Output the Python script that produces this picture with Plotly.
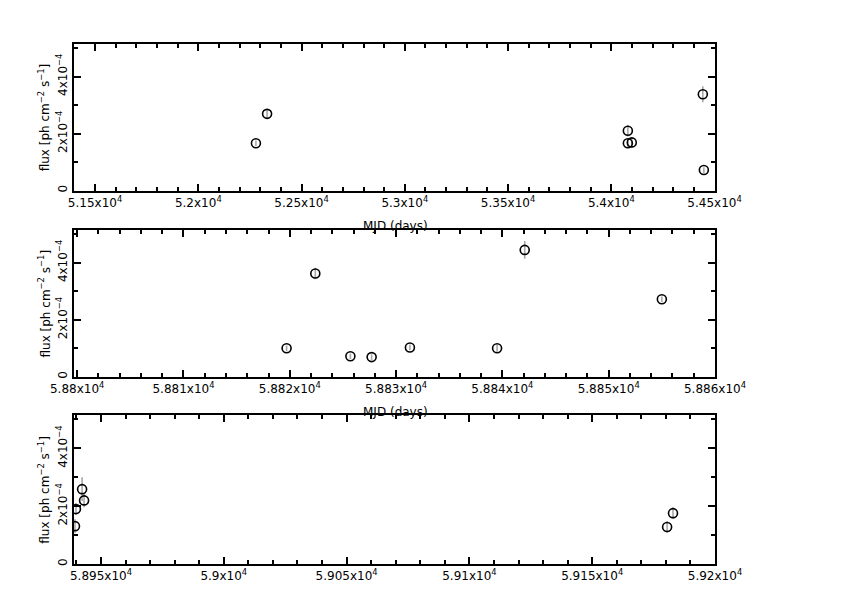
import plotly.graph_objects as go

# ---- data ----
p1_mjd = [52279, 52333, 54080, 54080, 54099, 54443, 54448]
p1_flux = [1.66e-4, 2.69e-4, 2.10e-4, 1.66e-4, 1.69e-4, 3.38e-4, 0.72e-4]
p1_err = [0.10e-4, 0.17e-4, 0.20e-4, 0.17e-4, 0.17e-4, 0.28e-4, 0.10e-4]

p2_mjd = [58819.7, 58822.4, 58825.7, 58827.7, 58831.3, 58839.5, 58842.1, 58855.0]
p2_flux = [1.00e-4, 3.62e-4, 0.72e-4, 0.69e-4, 1.03e-4, 1.00e-4, 4.45e-4, 2.72e-4]
p2_err = [0.10e-4, 0.20e-4, 0.10e-4, 0.10e-4, 0.10e-4, 0.12e-4, 0.31e-4, 0.10e-4]

p3_mjd = [58939.4, 58939.8, 58942.3, 58943.1, 59180.5, 59182.9]
p3_flux = [1.31e-4, 1.90e-4, 2.59e-4, 2.20e-4, 1.28e-4, 1.76e-4]
p3_err = [0.24e-4, 0.20e-4, 0.41e-4, 0.24e-4, 0.20e-4, 0.20e-4]

p1_xticks = [51500, 52000, 52500, 53000, 53500, 54000, 54500]
p1_xlabels = ["5.15x10<sup>4</sup>", "5.2x10<sup>4</sup>", "5.25x10<sup>4</sup>", "5.3x10<sup>4</sup>",
              "5.35x10<sup>4</sup>", "5.4x10<sup>4</sup>", "5.45x10<sup>4</sup>"]
p2_xticks = [58800, 58810, 58820, 58830, 58840, 58850, 58860]
p2_xlabels = ["5.88x10<sup>4</sup>", "5.881x10<sup>4</sup>", "5.882x10<sup>4</sup>", "5.883x10<sup>4</sup>",
              "5.884x10<sup>4</sup>", "5.885x10<sup>4</sup>", "5.886x10<sup>4</sup>"]
p3_xticks = [58950, 59000, 59050, 59100, 59150, 59200]
p3_xlabels = ["5.895x10<sup>4</sup>", "5.9x10<sup>4</sup>", "5.905x10<sup>4</sup>", "5.91x10<sup>4</sup>",
              "5.915x10<sup>4</sup>", "5.92x10<sup>4</sup>"]
yticks = [0, 2e-4, 4e-4]
ylabels = ["0", "2x10<sup>−4</sup>", "4x10<sup>−4</sup>"]

y_title = "flux [ph cm<sup>−2</sup> s<sup>−1</sup>]"
x_title = "MJD (days)"

panels = [
    (p1_mjd, p1_flux, p1_err, p1_xticks, p1_xlabels, [51398, 54502], 100),
    (p2_mjd, p2_flux, p2_err, p2_xticks, p2_xlabels, [58799.7, 58860.0], 2),
    (p3_mjd, p3_flux, p3_err, p3_xticks, p3_xlabels, [58939.0, 59200.0], 10),
]

# page body has an 8px margin; work in window pixels
OFF = 8
W, H = 842 - OFF, 595 - OFF
L, R, T, B = 74, 715, 44, 569          # plot block in window pixels
prow = [(44, 192), (232, 380), (419, 569)]

FONT = "DejaVu Sans"
fig = go.Figure()
layout = dict(
    width=W, height=H,
    margin=dict(l=L - OFF, r=W + OFF - R, t=T - OFF, b=H + OFF - B, pad=0),
    paper_bgcolor="white", plot_bgcolor="white",
    showlegend=False,
    font=dict(family=FONT, size=12, color="black"),
)
annotations = []
ph = B - T
for i, (mjd, flux, err, xt, xl, xr, mdt) in enumerate(panels):
    n = "" if i == 0 else str(i + 1)
    top, bot = prow[i]
    dom = [(B - bot) / ph, (B - top) / ph]
    fig.add_trace(go.Scatter(
        x=mjd, y=flux, mode="markers",
        xaxis="x" + n, yaxis="y" + n,
        marker=dict(symbol="circle-open", size=9, color="black", line=dict(width=1.6, color="black")),
        error_y=dict(type="data", array=err, visible=True, color="#a8a8a8", thickness=1.6, width=0),
    ))
    layout["xaxis" + n] = dict(
        domain=[0, 1], anchor="y" + n, range=xr,
        tickmode="array", tickvals=xt, ticktext=xl,
        ticks="inside", ticklen=7, tickwidth=1.5, tickcolor="black",
        showline=True, linewidth=2, linecolor="black", mirror="ticks",
        showgrid=False, zeroline=False,
        tickfont=dict(family=FONT, size=12, color="black"),
        minor=dict(ticks="inside", ticklen=4, tickwidth=1.5, tickcolor="black", dtick=mdt, tick0=xt[0], showgrid=False),
    )
    layout["yaxis" + n] = dict(
        domain=dom, anchor="x" + n, range=[0, 5.14e-4],
        tickmode="array", tickvals=yticks, ticktext=ylabels, tickangle=-90,
        ticks="inside", ticklen=7, tickwidth=1.5, tickcolor="black",
        showline=True, linewidth=2, linecolor="black", mirror="ticks",
        showgrid=False, zeroline=False,
        tickfont=dict(family=FONT, size=12, color="black"),
        minor=dict(ticks="inside", ticklen=4, tickwidth=1.5, tickcolor="black", dtick=1e-4, tick0=0, showgrid=False),
    )
    annotations.append(dict(
        text=y_title, textangle=-90, showarrow=False,
        xref="paper", yref="paper",
        x=(44 - L) / (R - L), y=(B - (top + bot) / 2) / ph,
        xanchor="center", yanchor="middle",
        font=dict(family=FONT, size=12, color="black"),
    ))
    if i < 2:
        annotations.append(dict(
            text=x_title, showarrow=False,
            xref="paper", yref="paper",
            x=(396 - L) / (R - L), y=(B - (bot + 36)) / ph,
            xanchor="center", yanchor="middle",
            font=dict(family=FONT, size=12, color="black"),
        ))

layout["annotations"] = annotations
fig.update_layout(**layout)
fig.write_html("out.html")
